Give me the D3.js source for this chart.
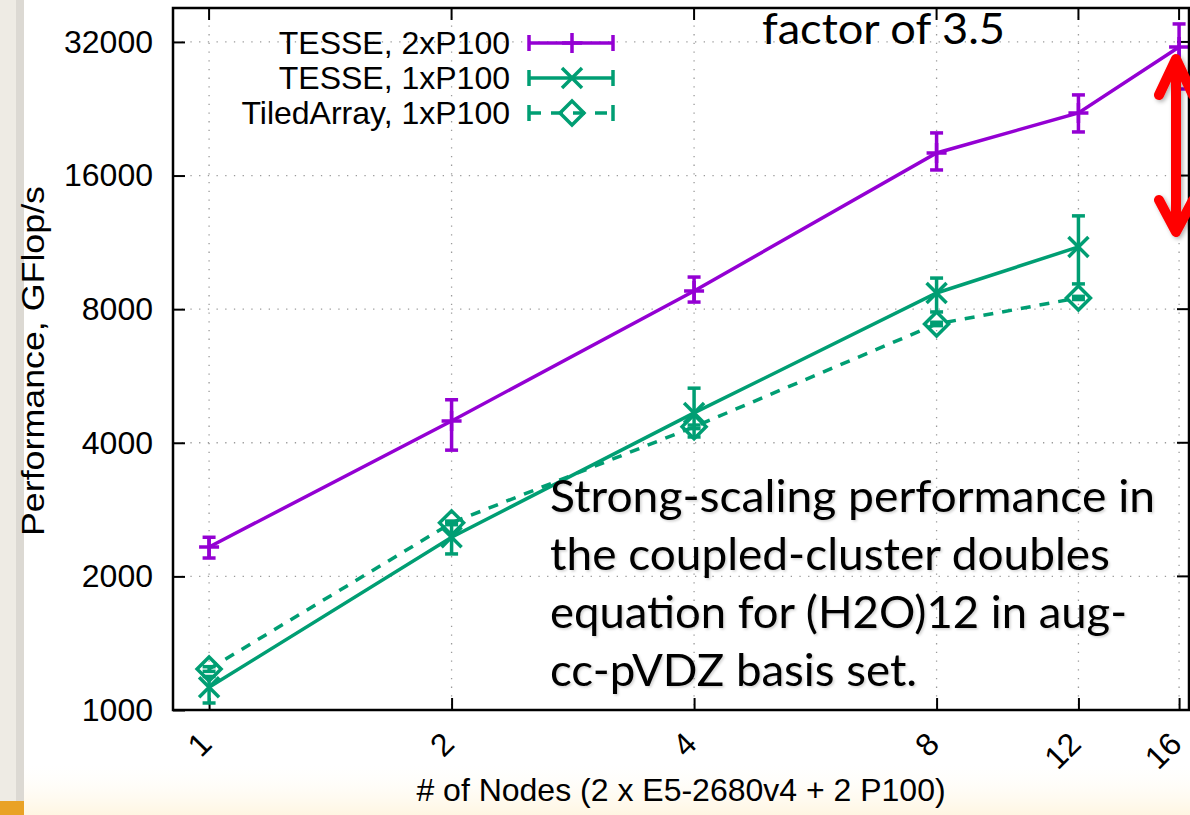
<!DOCTYPE html>
<html>
<head>
<meta charset="utf-8">
<script src="https://cdn.jsdelivr.net/npm/d3@7"></script>
<style>
  html, body { margin: 0; padding: 0; background: #fff; }
  svg { display: block; }
</style>
</head>
<body>
<svg id="chart" width="1190" height="815"></svg>
<script>
// Node counts on the x axis
const nodes = [1, 2, 4, 8, 12, 16];

// TESSE on 2 GPUs per node: mean and error-bar range (GFlop/s)
const tesse2 = [2330, 4480, 8790, 17990, 22140, 31180];
const tesse2Lo = [2200, 3850, 8300, 16470, 20060, 25070];
const tesse2Hi = [2450, 5000, 9450, 19960, 24310, 35130];

// TESSE on 1 GPU per node
const tesse1 = [1125, 2450, 4670, 8700, 11050];
const tesse1Lo = [1037, 2247, 4122, 7885, 9120];
const tesse1Hi = [1190, 2650, 5310, 9400, 12980];

// TiledArray on 1 GPU per node
const tiled = [1237, 2640, 4345, 7410, 8480];
const tiledLo = [1222, 2615, 4305, 7345, 8410];
const tiledHi = [1252, 2665, 4385, 7475, 8550];

// Axis tick values and labels
const yTicks = [1000, 2000, 4000, 8000, 16000, 32000];
const xTicks = [1, 2, 4, 8, 12, 16];
const seriesNames = ["TESSE, 2xP100", "TESSE, 1xP100", "TiledArray, 1xP100"];
const yTitle = "Performance, GFlop/s";
const xTitle = "# of Nodes (2 x E5-2680v4 + 2 P100)";
const factorNote = "factor of 3.5";
const captionLines = [
  "Strong-scaling performance in",
  "the coupled-cluster doubles",
  "equation for (H2O)12 in aug-",
  "cc-pVDZ basis set."
];

const W = 1190, H = 815;
const plot = { left: 173, right: 1189, top: 8, bottom: 710 };
const PURPLE = "#9400d3", GREEN = "#009e73";
const gnuFont = "'Liberation Sans', Arial, Helvetica, sans-serif";
const slideFont = "Lato, 'Open Sans', sans-serif";

const svg = d3.select("#chart");
const defs = svg.append("defs");

// soft drop shadows used by the slide overlays
const sh1 = defs.append("filter").attr("id", "txtShadow")
  .attr("x", "-5%").attr("y", "-20%").attr("width", "110%").attr("height", "140%");
sh1.append("feDropShadow").attr("dx", 1.5).attr("dy", 1.5)
  .attr("stdDeviation", 1).attr("flood-color", "#000").attr("flood-opacity", 0.18);
const sh2 = defs.append("filter").attr("id", "arrowShadow")
  .attr("x", "-50%").attr("y", "-20%").attr("width", "200%").attr("height", "140%");
sh2.append("feDropShadow").attr("dx", 2).attr("dy", 2)
  .attr("stdDeviation", 2).attr("flood-color", "#000").attr("flood-opacity", 0.3);

const bottomGrad = defs.append("linearGradient").attr("id", "bottomGlow")
  .attr("x1", 0).attr("y1", 0).attr("x2", 0).attr("y2", 1);
bottomGrad.append("stop").attr("offset", "0%").attr("stop-color", "#fffdf6").attr("stop-opacity", 0);
bottomGrad.append("stop").attr("offset", "100%").attr("stop-color", "#fff6e2").attr("stop-opacity", 1);

// slide background
svg.append("rect").attr("width", W).attr("height", H).attr("fill", "#fff");
svg.append("rect").attr("x", 0).attr("y", 765).attr("width", W).attr("height", 50).attr("fill", "url(#bottomGlow)");
svg.append("rect").attr("x", 0).attr("y", 0).attr("width", 16).attr("height", H).attr("fill", "#eeebe4");
svg.append("rect").attr("x", 16).attr("y", 0).attr("width", 8).attr("height", H).attr("fill", "#dcd9d3");
svg.append("rect").attr("x", 0).attr("y", 801).attr("width", 24).attr("height", 14).attr("fill", "#e9a226");

// scales (log base 2 on both axes)
const x = d3.scaleLog().base(2).domain([0.902, 16.46]).range([plot.left, plot.right]);
const y = d3.scaleLog().base(2).domain([1000, 38160]).range([plot.bottom, plot.top]);

// dotted grid
const grid = svg.append("g").attr("stroke", "#9a9a9a").attr("stroke-width", 1.3)
  .attr("stroke-dasharray", "1.3,7.4").attr("fill", "none");
grid.selectAll("line.gx").data(xTicks).join("line").attr("class", "gx")
  .attr("x1", d => x(d)).attr("x2", d => x(d)).attr("y1", plot.top).attr("y2", plot.bottom);
grid.selectAll("line.gy").data(yTicks.slice(1)).join("line").attr("class", "gy")
  .attr("x1", plot.left).attr("x2", plot.right).attr("y1", d => y(d)).attr("y2", d => y(d));

// axes with inward ticks
const yAxis = d3.axisLeft(y).tickValues(yTicks).tickSize(-12).tickPadding(20).tickFormat(d3.format("d"));
const gy = svg.append("g").attr("transform", `translate(${plot.left},0)`).call(yAxis);
const xAxis = d3.axisBottom(x).tickValues(xTicks).tickSize(-12).tickFormat(d3.format("d"));
const gx = svg.append("g").attr("transform", `translate(0,${plot.bottom})`).call(xAxis);
[gx, gy].forEach(g => {
  g.select(".domain").remove();
  g.selectAll(".tick line").attr("stroke", "#000").attr("stroke-width", 2);
  g.selectAll("text").attr("fill", "#000").attr("font-family", gnuFont).attr("font-size", 32);
});
// rotated x labels, right-aligned just below the tick
gx.selectAll(".tick text")
  .attr("x", -4).attr("y", 28).attr("dy", "0.35em").attr("text-anchor", "end")
  .attr("transform", "rotate(-45,-4,28)");

// mirrored ticks on top and right
svg.append("g").selectAll("line").data(xTicks).join("line")
  .attr("x1", d => x(d)).attr("x2", d => x(d)).attr("y1", plot.top).attr("y2", plot.top + 12)
  .attr("stroke", "#000").attr("stroke-width", 2);
svg.append("g").selectAll("line").data(yTicks).join("line")
  .attr("x1", plot.right - 12).attr("x2", plot.right).attr("y1", d => y(d)).attr("y2", d => y(d))
  .attr("stroke", "#000").attr("stroke-width", 2);

// series
const series = [
  { name: seriesNames[0], vals: tesse2, lo: tesse2Lo, hi: tesse2Hi, color: PURPLE, dash: null, marker: "plus" },
  { name: seriesNames[1], vals: tesse1, lo: tesse1Lo, hi: tesse1Hi, color: GREEN, dash: null, marker: "cross" },
  { name: seriesNames[2], vals: tiled, lo: tiledLo, hi: tiledHi, color: GREEN, dash: "10,9", marker: "diamond" }
];
const markerPath = {
  plus: "M-10,0H10M0,-10V10",
  cross: "M-10,-10L10,10M-10,10L10,-10",
  diamond: "M0,-12L12,0L0,12L-12,0Z"
};
const line = d3.line().x(d => x(d.n)).y(d => y(d.v));
const SW = 3.5, CAP = 6.5;

const gSeries = svg.append("g");
series.slice().reverse().forEach(s => {
  const pts = s.vals.map((v, i) => ({ n: nodes[i], v, lo: s.lo[i], hi: s.hi[i] }));
  const g = gSeries.append("g").attr("stroke", s.color).attr("fill", "none").attr("stroke-width", SW);
  g.append("path").datum(pts).attr("d", line).attr("stroke-dasharray", s.dash);
  const eb = g.selectAll("g.eb").data(pts).join("g").attr("class", "eb");
  eb.append("line").attr("x1", d => x(d.n)).attr("x2", d => x(d.n)).attr("y1", d => y(d.lo)).attr("y2", d => y(d.hi));
  eb.append("line").attr("x1", d => x(d.n) - CAP).attr("x2", d => x(d.n) + CAP).attr("y1", d => y(d.lo)).attr("y2", d => y(d.lo));
  eb.append("line").attr("x1", d => x(d.n) - CAP).attr("x2", d => x(d.n) + CAP).attr("y1", d => y(d.hi)).attr("y2", d => y(d.hi));
  g.selectAll("path.mk").data(pts).join("path").attr("class", "mk")
    .attr("d", markerPath[s.marker]).attr("transform", d => `translate(${x(d.n)},${y(d.v)})`);
});

// frame
svg.append("rect").attr("x", plot.left).attr("y", plot.top)
  .attr("width", plot.right - plot.left).attr("height", plot.bottom - plot.top)
  .attr("fill", "none").attr("stroke", "#000").attr("stroke-width", 2.5);

// legend
const legY = [43, 78, 113];
const lg = svg.append("g");
series.forEach((s, i) => {
  const cy = legY[i];
  lg.append("text").attr("x", 510).attr("y", cy).attr("dy", "0.35em").attr("text-anchor", "end")
    .attr("font-family", gnuFont).attr("font-size", 32).attr("fill", "#000").text(s.name);
  const g = lg.append("g").attr("stroke", s.color).attr("stroke-width", SW).attr("fill", "none");
  g.append("line").attr("x1", 529).attr("x2", 613).attr("y1", cy).attr("y2", cy).attr("stroke-dasharray", s.dash ? "12,10" : null);
  g.append("line").attr("x1", 529).attr("x2", 529).attr("y1", cy - 8).attr("y2", cy + 8);
  g.append("line").attr("x1", 613).attr("x2", 613).attr("y1", cy - 8).attr("y2", cy + 8);
  g.append("path").attr("d", markerPath[s.marker]).attr("transform", `translate(572,${cy})`);
});

// axis titles
svg.append("text").attr("transform", "translate(44,361) rotate(-90)").attr("text-anchor", "middle")
  .attr("font-family", gnuFont).attr("font-size", 32).attr("fill", "#000")
  .attr("textLength", 350).attr("lengthAdjust", "spacingAndGlyphs").text(yTitle);
svg.append("text").attr("x", 681).attr("y", 801).attr("text-anchor", "middle")
  .attr("font-family", gnuFont).attr("font-size", 32).attr("fill", "#000").text(xTitle);

// slide annotations
svg.append("text").attr("x", 762).attr("y", 44)
  .attr("font-family", slideFont).attr("font-size", 43).attr("fill", "#000")
  .attr("textLength", 243).attr("lengthAdjust", "spacingAndGlyphs").text(factorNote);

const capWidths = [605, 560, 577, 367];
const capBase = [512, 570, 628, 686];
const cap = svg.append("g").attr("filter", "url(#txtShadow)");
captionLines.forEach((t, i) => {
  cap.append("text").attr("x", 550).attr("y", capBase[i])
    .attr("font-family", slideFont).attr("font-size", 45).attr("fill", "#000")
    .attr("textLength", capWidths[i]).attr("lengthAdjust", "spacingAndGlyphs").text(t);
});

// double-headed red arrow
const arrow = svg.append("g").attr("filter", "url(#arrowShadow)")
  .attr("stroke", "#ff0000").attr("stroke-width", 10).attr("fill", "none")
  .attr("stroke-linecap", "round").attr("stroke-linejoin", "round");
arrow.append("line").attr("x1", 1176).attr("x2", 1176).attr("y1", 62).attr("y2", 228);
arrow.append("path").attr("d", "M1159,95L1176,59L1193,95");
arrow.append("path").attr("d", "M1159,200L1176,232L1193,200");
</script>
</body>
</html>
